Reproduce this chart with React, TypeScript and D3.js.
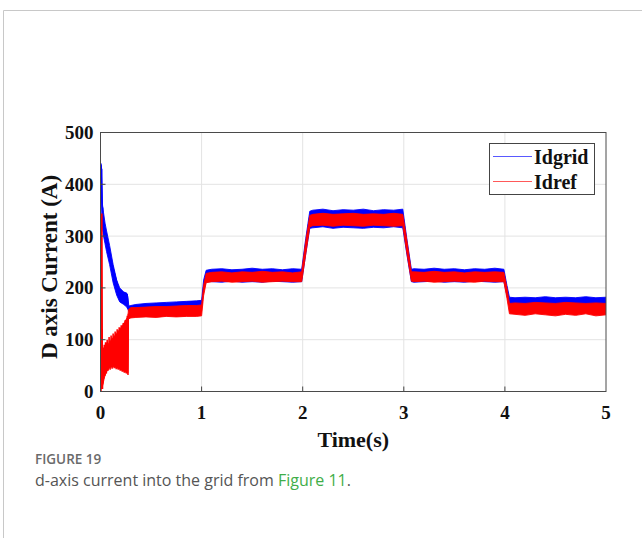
import React from "react";
import * as d3 from "d3";

// ---- data ----
const xTicks = [0, 1, 2, 3, 4, 5];
const yTicks = [0, 100, 200, 300, 400, 500];
const seriesNames = ["Idgrid", "Idref"];

// Idgrid band: [time, low, high]
const idgridBand: [number, number, number][] = [
  [0.0, 320, 400], [0.006, 390, 437], [0.012, 360, 428], [0.02, 318, 360],
  [0.03, 300, 345], [0.045, 285, 325], [0.06, 270, 310], [0.09, 245, 282],
  [0.125, 210, 245], [0.16, 186, 215], [0.19, 173, 200], [0.23, 168, 192],
  [0.26, 163, 190], [0.272, 158, 182], [0.28, 155, 165], [0.3, 156, 166],
  [0.35, 158, 168], [0.45, 160, 170], [0.55, 160, 171], [0.65, 161, 172],
  [0.75, 161, 173], [0.85, 162, 174], [0.95, 162, 175], [1.0, 163, 176],
  [1.02, 195, 215], [1.045, 212, 234],
  [1.1, 212, 236], [1.2, 211, 237], [1.3, 213, 235], [1.4, 211, 236], [1.5, 212, 238],
  [1.6, 211, 236], [1.7, 213, 237], [1.8, 212, 235], [1.9, 211, 237], [1.99, 212, 236],
  [2.03, 265, 295], [2.07, 315, 348],
  [2.1, 316, 350], [2.2, 318, 352], [2.3, 315, 349], [2.4, 317, 351], [2.5, 316, 350],
  [2.6, 315, 352], [2.7, 317, 349], [2.8, 316, 351], [2.9, 318, 350], [2.99, 316, 352],
  [3.03, 265, 295], [3.075, 212, 236],
  [3.1, 211, 237], [3.2, 212, 236], [3.3, 213, 238], [3.4, 211, 236], [3.5, 212, 237],
  [3.6, 211, 235], [3.7, 213, 237], [3.8, 212, 236], [3.9, 211, 238], [3.99, 212, 236],
  [4.02, 185, 205], [4.045, 168, 182],
  [4.1, 168, 181], [4.2, 169, 182], [4.3, 167, 181], [4.4, 168, 183], [4.5, 169, 181],
  [4.6, 168, 182], [4.7, 167, 181], [4.8, 169, 183], [4.9, 168, 181], [5.0, 168, 182],
];

// Idref band: [time, low, high]
const idrefBand: [number, number, number][] = [
  [0.016, 20, 70], [0.022, 12, 72], [0.04, 28, 80], [0.06, 38, 86], [0.08, 44, 92],
  [0.1, 47, 98], [0.13, 48, 105], [0.16, 46, 112], [0.19, 43, 120], [0.22, 40, 128],
  [0.25, 37, 138], [0.272, 35, 145], [0.276, 140, 158],
  [0.3, 142, 162], [0.35, 143, 162], [0.45, 144, 163], [0.55, 143, 164], [0.65, 145, 164],
  [0.75, 144, 165], [0.85, 145, 166], [0.95, 145, 166], [1.0, 146, 167],
  [1.02, 185, 205], [1.045, 210, 228],
  [1.1, 212, 230], [1.2, 213, 231], [1.3, 211, 229], [1.4, 212, 231], [1.5, 213, 230],
  [1.6, 211, 232], [1.7, 212, 230], [1.8, 213, 231], [1.9, 212, 229], [1.99, 212, 231],
  [2.03, 265, 290], [2.07, 318, 340],
  [2.1, 320, 342], [2.2, 321, 344], [2.3, 319, 342], [2.4, 321, 343], [2.5, 320, 344],
  [2.6, 319, 342], [2.7, 321, 343], [2.8, 320, 342], [2.9, 319, 344], [2.99, 320, 342],
  [3.03, 268, 292], [3.075, 213, 231],
  [3.1, 212, 231], [3.2, 213, 230], [3.3, 211, 232], [3.4, 212, 230], [3.5, 213, 231],
  [3.6, 212, 229], [3.7, 211, 231], [3.8, 213, 230], [3.9, 212, 231], [3.99, 212, 230],
  [4.02, 180, 200], [4.045, 150, 170],
  [4.1, 149, 171], [4.2, 147, 170], [4.3, 150, 172], [4.4, 148, 171], [4.5, 146, 170],
  [4.6, 149, 172], [4.7, 147, 171], [4.8, 150, 170], [4.9, 146, 171], [5.0, 148, 170],
];

// Idref start-up oscillation: [time, value]
const idrefStartup: [number, number][] = [
  [0.005, 0], [0.007, 342], [0.014, 342], [0.016, 200], [0.018, 60], [0.02, 5],
  [0.022, 60], [0.024, 15], [0.028, 85], [0.032, 25], [0.037, 90], [0.042, 30], [0.05, 95],
  [0.058, 35], [0.066, 100], [0.075, 40], [0.085, 105], [0.095, 42], [0.105, 108],
  [0.115, 44], [0.125, 112], [0.135, 45], [0.145, 116], [0.155, 43], [0.165, 120],
  [0.175, 42], [0.185, 124], [0.195, 40], [0.205, 128], [0.215, 38], [0.225, 132],
  [0.235, 36], [0.245, 138], [0.255, 35], [0.265, 146], [0.272, 32], [0.275, 150],
];

// Idgrid start-up teeth: [time, value]
const idgridStartup: [number, number][] = [
  [0.002, 300], [0.005, 440], [0.008, 400], [0.012, 430], [0.018, 340], [0.022, 355],
  [0.026, 310], [0.21, 178], [0.215, 194], [0.22, 174], [0.235, 192], [0.24, 171],
  [0.25, 190], [0.255, 168], [0.265, 188], [0.272, 160],
];

const colors = ["#0000ff", "#ff0000"];

export default function App() {
  const W = 642, H = 538;
  const left = 100.5, right = 606, top = 132.5, bottom = 391.5;
  const x = d3.scaleLinear().domain([0, 5]).range([left, right]);
  const y = d3.scaleLinear().domain([0, 500]).range([bottom, top]);

  const area = d3
    .area<[number, number, number]>()
    .x((d) => x(d[0]))
    .y0((d) => y(d[1]))
    .y1((d) => y(d[2]));
  const line = d3
    .line<[number, number]>()
    .x((d) => x(d[0]))
    .y((d) => y(d[1]));

  const serif = "'Liberation Serif', 'Times New Roman', serif";
  const sans = "'Open Sans', 'Noto Sans', sans-serif";

  return (
    <svg
      width={W}
      height={H}
      style={{ position: "absolute", left: 0, top: 0, background: "#fff" }}
    >
      {/* card border */}
      <line x1={3.5} y1={10.5} x2={W} y2={10.5} stroke="#c8c8c8" strokeWidth={1} />
      <line x1={3.5} y1={10.5} x2={3.5} y2={H} stroke="#c8c8c8" strokeWidth={1} />

      {/* grid */}
      {xTicks.slice(1, -1).map((t) => (
        <line key={"gx" + t} x1={x(t)} x2={x(t)} y1={top} y2={bottom} stroke="#e3e3e3" strokeWidth={1} />
      ))}
      {yTicks.slice(1, -1).map((t) => (
        <line key={"gy" + t} x1={left} x2={right} y1={y(t)} y2={y(t)} stroke="#e3e3e3" strokeWidth={1} />
      ))}

      <defs>
        <clipPath id="plotclip">
          <rect x={left} y={top} width={right - left} height={bottom - top} />
        </clipPath>
      </defs>

      <g clipPath="url(#plotclip)">
        <path d={area(idgridBand) || ""} fill={colors[0]} stroke={colors[0]} strokeWidth={0.9} />
        <path d={line(idgridStartup) || ""} fill="none" stroke={colors[0]} strokeWidth={1} />
        <path d={area(idrefBand) || ""} fill={colors[1]} stroke={colors[1]} strokeWidth={0.9} />
        <path d={line(idrefStartup) || ""} fill="none" stroke={colors[1]} strokeWidth={1.5} />
      </g>

      {/* ticks */}
      {xTicks.slice(1, -1).map((t) => (
        <line key={"tx" + t} x1={x(t)} x2={x(t)} y1={bottom} y2={bottom - 5} stroke="#444" />
      ))}
      {yTicks.slice(1, -1).map((t) => (
        <line key={"ty" + t} x1={left} x2={left + 5} y1={y(t)} y2={y(t)} stroke="#444" />
      ))}

      {/* axes box */}
      <rect x={left} y={top} width={right - left} height={bottom - top} fill="none" stroke="#4a4a4a" strokeWidth={1} />

      {/* tick labels */}
      {xTicks.map((t) => (
        <text key={"lx" + t} x={x(t)} y={418.5} textAnchor="middle" fontFamily={serif} fontWeight="bold" fontSize={19} fill="#111">
          {t}
        </text>
      ))}
      {yTicks.map((t) => (
        <text key={"ly" + t} x={93.5} y={y(t) + 6.5} textAnchor="end" fontFamily={serif} fontWeight="bold" fontSize={19} fill="#111">
          {t}
        </text>
      ))}

      {/* axis titles */}
      <text x={x(2.5)} y={447} textAnchor="middle" fontFamily={serif} fontWeight="bold" fontSize={22} fill="#111">
        Time(s)
      </text>
      <text
        transform={`translate(57,267) rotate(-90)`}
        textAnchor="middle"
        fontFamily={serif}
        fontWeight="bold"
        fontSize={23}
        fill="#111"
      >
        D axis Current (A)
      </text>

      {/* legend */}
      <rect x={489.5} y={143.5} width={105} height={51} fill="#fff" stroke="#444" strokeWidth={1} />
      {seriesNames.map((name, i) => (
        <g key={name}>
          <line x1={493} x2={532} y1={156.5 + i * 25} y2={156.5 + i * 25} stroke={colors[i]} strokeOpacity={0.65} strokeWidth={1.2} />
          <text x={534} y={164 + i * 25} fontFamily={serif} fontWeight="bold" fontSize={20} fill="#111">
            {name}
          </text>
        </g>
      ))}

      {/* caption */}
      <text x={35} y={464} fontFamily={sans} fontWeight={600} fontSize={13.5} fill="#6a6a6a">
        FIGURE 19
      </text>
      <text x={35} y={486} fontFamily={sans} fontSize={16} fill="#555">
        d-axis current into the grid from <tspan fill="#3fae49">Figure 11</tspan>.
      </text>
    </svg>
  );
}
